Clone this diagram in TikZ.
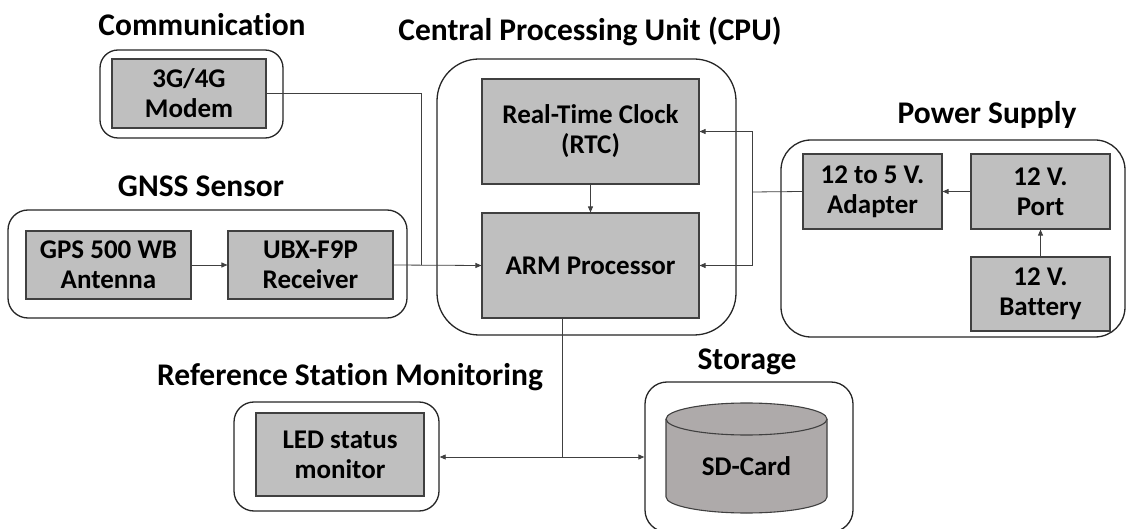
\documentclass[tikz,border=0pt]{standalone}
\usepackage{fontspec}
\setmainfont{Carlito}[Ligatures=NoCommon]
\usetikzlibrary{arrows.meta}
\definecolor{boxgray}{RGB}{191,191,191}
\definecolor{cylgray}{RGB}{174,170,170}
\definecolor{linegray}{RGB}{64,64,64}
\begin{document}
\begin{tikzpicture}[x=1pt,y=-1pt,
  grp/.style={draw=black!85, line width=1.3pt, rounded corners=#1, fill=white, inner sep=0pt},
  grp/.default=20pt,
  blk/.style={draw=linegray, line width=1.1pt, fill=boxgray, inner sep=0pt, align=center,
    font=\fontsize{27}{30}\selectfont\bfseries},
  ttl/.style={font=\fontsize{31.5}{36}\selectfont\bfseries, inner sep=0pt},
  conn/.style={draw=linegray, line width=0.8pt},
  arr/.style={conn, -{Triangle[length=6pt,width=5pt]}}
]
\useasboundingbox (0,0) rectangle (1127,529);

% group boxes
\node[grp=18pt, minimum width=183pt, minimum height=88pt] (comm) at (191.5,94) {};
\node[grp=42pt, minimum width=299pt, minimum height=276pt] (cpu) at (586.5,197) {};
\node[grp=30pt, minimum width=344pt, minimum height=197pt] (power) at (953,238.5) {};
\node[grp=20pt, minimum width=399pt, minimum height=108pt] (gnss) at (207.5,264) {};
\node[grp=20pt, minimum width=205pt, minimum height=109pt] (rsm) at (336.5,456.5) {};
\node[grp=22pt, minimum width=208pt, minimum height=150pt] (stor) at (749,457) {};

% titles
\node[ttl] (tcomm) at (202,25) {Communication};
\node[ttl] (tcpu) at (590,31) {Central Processing Unit (CPU)};
\node[ttl] (tpow) at (987,115) {Power Supply};
\node[ttl] (tgnss) at (201,186) {GNSS Sensor};
\node[ttl] (trsm) at (350,377) {Reference Station Monitoring};
\node[ttl] (tstor) at (747,362) {Storage};

% blocks
\node[blk, minimum width=154pt, minimum height=69pt] (modem) at (189,93.5) {3G/4G\\Modem};
\node[blk, minimum width=217pt, minimum height=105pt] (rtc) at (590.5,131.5) {Real-Time Clock\\(RTC)};
\node[blk, minimum width=217pt, minimum height=105pt] (arm) at (590.5,265.5) {ARM Processor};
\node[blk, minimum width=139pt, minimum height=75pt] (adapt) at (872.5,191.5) {12 to 5 V.\\Adapter};
\node[blk, minimum width=139pt, minimum height=75pt] (port) at (1040.5,191.5) {12 V.\\Port};
\node[blk, minimum width=139pt, minimum height=74pt] (batt) at (1040.5,294) {12 V.\\Battery};
\node[blk, minimum width=165pt, minimum height=68pt] (gps) at (108.5,265) {GPS 500 WB\\Antenna};
\node[blk, minimum width=165pt, minimum height=68pt] (ubx) at (310.5,265) {UBX-F9P\\Receiver};
\node[blk, minimum width=168pt, minimum height=83pt] (led) at (340,454.5) {LED status\\monitor};

% SD card cylinder
\fill[cylgray] (666,419) -- (666,497) arc[start angle=180, end angle=360, x radius=80.5pt, y radius=16pt] -- (827,419) -- cycle;
\draw[linegray, line width=1.1pt] (666,419) -- (666,497) arc[start angle=180, end angle=360, x radius=80.5pt, y radius=16pt] -- (827,419);
\draw[linegray, line width=1.1pt, fill=cylgray] (746.5,419) ellipse [x radius=80.5pt, y radius=16pt];
\node[font=\fontsize{27}{30}\selectfont\bfseries] (sd) at (746.5,466) {SD-Card};

% connectors
\coordinate (jm) at (421,265.5);
\coordinate (jp) at (752,192);
\coordinate (jb) at (562,457);
\draw[conn] (modem.east) -| (jm);
\draw[arr] (gps.east) -- (ubx.west);
\draw[arr] (ubx.east) -- (arm.west);
\draw[arr] (rtc.south) -- (arm.north);
\draw[arr] (port.west) -- (adapt.east);
\draw[arr] (batt.north) -- (port.south);
\draw[conn] (adapt.west) -- (jp);
\draw[arr] (jp) |- (rtc.east);
\draw[arr] (jp) |- (arm.east);
\draw[conn] (arm.south -| jb) -- (jb);
\draw[arr] (jb) -- (rsm.east |- jb);
\draw[arr] (jb) -- (stor.west |- jb);
\end{tikzpicture}
\end{document}
